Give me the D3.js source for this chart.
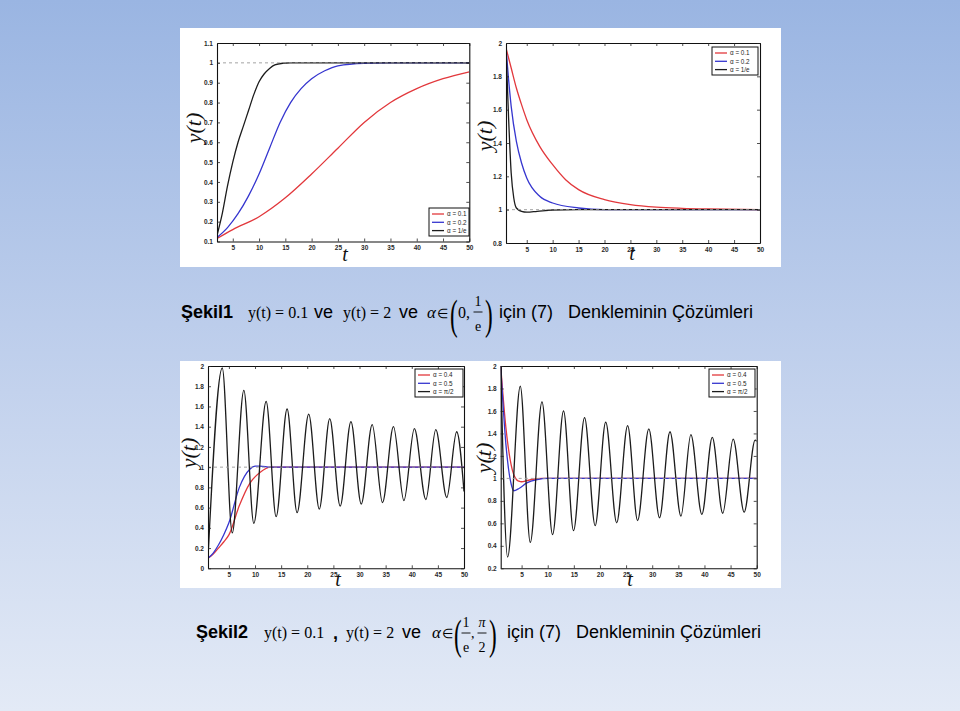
<!DOCTYPE html>
<html>
<head>
<meta charset="utf-8">
<script src="https://cdn.jsdelivr.net/npm/d3@7"></script>
<style>
  body { margin: 0; }
  svg { display: block; }
</style>
</head>
<body>
<svg id="slide" width="960" height="711"></svg>
<script>
// ---- data ----
var tTicks = [5, 10, 15, 20, 25, 30, 35, 40, 45, 50];

var fig1aYTicks = [0.1, 0.2, 0.3, 0.4, 0.5, 0.6, 0.7, 0.8, 0.9, 1, 1.1];
var fig1bYTicks = [0.8, 1, 1.2, 1.4, 1.6, 1.8, 2];
var fig2aYTicks = [0, 0.2, 0.4, 0.6, 0.8, 1, 1.2, 1.4, 1.6, 1.8, 2];
var fig2bYTicks = [0.2, 0.4, 0.6, 0.8, 1, 1.2, 1.4, 1.6, 1.8, 2];

var fig1Labels = ["\u03b1 = 0.1", "\u03b1 = 0.2", "\u03b1 = 1/e"];
var fig2Labels = ["\u03b1 = 0.4", "\u03b1 = 0.5", "\u03b1 = \u03c0/2"];

// Sekil1, y(0)=0.1
var fig1aRed = [[2, 0.115], [5, 0.16], [10, 0.225], [15, 0.32], [20, 0.44], [25, 0.57], [30, 0.70],
  [35, 0.80], [40, 0.87], [45, 0.92], [50, 0.955]];
var fig1aBlue = [[2, 0.12], [4, 0.17], [6, 0.24], [8, 0.33], [10, 0.44], [12, 0.57], [14, 0.70],
  [16, 0.80], [18, 0.87], [20, 0.92], [22.5, 0.96], [25, 0.985], [30, 0.998], [35, 1], [50, 1]];
var fig1aBlack = [[2, 0.13], [3, 0.24], [4, 0.38], [5, 0.50], [6, 0.60], [7, 0.68], [8, 0.76],
  [9, 0.84], [10, 0.905], [11, 0.945], [12, 0.972], [13, 0.99], [14.5, 0.998], [16, 1], [50, 1]];

// Sekil1, y(0)=2
var fig1bRed = [[1, 1.97], [2, 1.85], [3, 1.73], [4, 1.63], [5, 1.54], [7.5, 1.38], [10, 1.27],
  [12.5, 1.18], [15, 1.12], [20, 1.06], [25, 1.03], [30, 1.015], [35, 1.008], [40, 1.004], [50, 1.0]];
var fig1bBlue = [[1, 1.97], [1.5, 1.78], [2, 1.62], [3, 1.41], [4, 1.28], [5, 1.19], [7.5, 1.08],
  [10, 1.04], [15, 1.01], [20, 1.0], [50, 1.0]];
var fig1bBlack = [[1, 1.97], [1.5, 1.55], [2, 1.22], [2.5, 1.07], [3, 1.01], [4, 0.99], [5, 0.985],
  [7, 0.99], [10, 0.998], [15, 1], [50, 1]];

// Sekil2, y(0)=0.1
var fig2aRed = [[1, 0.1], [2, 0.14], [3, 0.2], [4, 0.26], [5, 0.33], [7, 0.62], [9, 0.84],
  [11, 0.95], [13, 1.0], [50, 1.0]];
var fig2aBlue = [[1, 0.1], [2, 0.15], [3, 0.23], [4, 0.33], [5, 0.45], [7, 0.8], [9, 0.98],
  [10, 1.01], [11, 1.01], [13, 1.0], [50, 1.0]];
var fig2aBlack = [[1, 0.1], [3.73, 1.98], [5.64, 0.35], [7.86, 1.76], [9.77, 0.445], [12.13, 1.65],
  [14.04, 0.51], [16.14, 1.575], [18.05, 0.55], [20.28, 1.525], [22.3, 0.585], [24.3, 1.48],
  [26.3, 0.615], [28.36, 1.45], [30.33, 0.635], [32.43, 1.42], [34.4, 0.65], [36.5, 1.40],
  [38.5, 0.67], [40.5, 1.38], [42.7, 0.68], [44.6, 1.37], [46.7, 0.70], [48.6, 1.35], [50, 0.76]];

// Sekil2, y(0)=2
var fig2bRed = [[1, 2], [2, 1.45], [3, 1.12], [4, 0.99], [4.5, 0.975], [5, 0.97], [6, 0.98],
  [7, 0.99], [9, 1.0], [50, 1.0]];
var fig2bBlue = [[1, 2], [2, 1.3], [3, 0.95], [3.5, 0.89], [4.5, 0.91], [6, 0.96], [8, 0.99],
  [10, 1.0], [50, 1.0]];
var fig2bBlack = [[1, 2], [2.32, 0.30], [4.75, 1.82], [6.66, 0.43], [8.9, 1.68], [10.93, 0.50],
  [13.03, 1.60], [14.94, 0.535], [17.05, 1.54], [19.08, 0.58], [21.1, 1.50], [23.2, 0.605],
  [25.3, 1.47], [27.2, 0.625], [29.35, 1.44], [31.4, 0.65], [33.4, 1.415], [35.5, 0.665],
  [37.4, 1.39], [39.5, 0.68], [41.5, 1.365], [43.5, 0.69], [45.5, 1.35], [47.6, 0.70],
  [49.7, 1.34], [50, 1.33]];

var lineColors = ["#e2383c", "#3636cf", "#1c1c1c"];

// ---- page ----
var svg = d3.select("#slide");
var defs = svg.append("defs");
var grad = defs.append("linearGradient").attr("id", "bg")
  .attr("x1", 0).attr("y1", 0).attr("x2", 0).attr("y2", 1);
grad.append("stop").attr("offset", "0%").attr("stop-color", "#9ab5e2");
grad.append("stop").attr("offset", "55%").attr("stop-color", "#c3d2ed");
grad.append("stop").attr("offset", "100%").attr("stop-color", "#e3eaf6");
svg.append("rect").attr("width", 960).attr("height", 711).attr("fill", "url(#bg)");

// white picture boxes
svg.append("rect").attr("x", 180).attr("y", 28).attr("width", 601).attr("height", 239).attr("fill", "#fff");
svg.append("rect").attr("x", 180).attr("y", 361).attr("width", 601).attr("height", 227).attr("fill", "#fff");

var panels = [
  { L: 217, R: 469.3, T: 43, B: 241.5, xDom: [2, 50], yDom: [0.1, 1.1], yTicks: fig1aYTicks,
    series: [fig1aRed, fig1aBlue, fig1aBlack], labels: fig1Labels,
    leg: [429, 208, 40, 28], ylab: [195, 128], tlab: [345, 261] },
  { L: 506, R: 760, T: 43, B: 243, xDom: [1, 50], yDom: [0.8, 2], yTicks: fig1bYTicks,
    series: [fig1bRed, fig1bBlue, fig1bBlack], labels: fig1Labels,
    leg: [712, 47, 46, 28], ylab: [486, 136], tlab: [632, 260] },
  { L: 208, R: 464, T: 366, B: 568.3, xDom: [1, 50], yDom: [0, 2], yTicks: fig2aYTicks,
    series: [fig2aRed, fig2aBlue, fig2aBlack], labels: fig2Labels,
    leg: [415, 369, 48, 28], ylab: [190, 453], tlab: [338, 586] },
  { L: 500.7, R: 756.7, T: 366, B: 568.3, xDom: [1, 50], yDom: [0.2, 2], yTicks: fig2bYTicks,
    series: [fig2bRed, fig2bBlue, fig2bBlack], labels: fig2Labels,
    leg: [709, 369, 46, 28], ylab: [485, 458], tlab: [630, 586] }
];

panels.forEach(function(p, i) {
  var x = d3.scaleLinear().domain(p.xDom).range([p.L, p.R]);
  var y = d3.scaleLinear().domain(p.yDom).range([p.B, p.T]);
  var g = svg.append("g");

  defs.append("clipPath").attr("id", "clip" + i)
    .append("rect").attr("x", p.L).attr("y", p.T).attr("width", p.R - p.L).attr("height", p.B - p.T);

  var line = d3.line()
    .x(function(d) { return x(d[0]); })
    .y(function(d) { return y(d[1]); })
    .curve(d3.curveMonotoneX);

  var plot = g.append("g").attr("clip-path", "url(#clip" + i + ")");

  // curves
  p.series.forEach(function(s, k) {
    plot.append("path")
      .attr("d", line(s))
      .attr("fill", "none")
      .attr("stroke", lineColors[k])
      .attr("stroke-width", 1.3);
  });

  // steady state reference y = 1
  plot.append("path")
    .attr("d", line([[p.xDom[0], 1], [p.xDom[1], 1]]))
    .attr("stroke", "#9a9a9a")
    .attr("stroke-width", 0.9)
    .attr("stroke-dasharray", "3,3");

  // axes, MATLAB style inward ticks on all sides
  var fmt = d3.format("~g");
  var bottom = g.append("g").attr("transform", "translate(0," + p.B + ")")
    .call(d3.axisBottom(x).tickValues(tTicks).tickSize(-3).tickSizeOuter(0).tickPadding(4).tickFormat(fmt));
  var top = g.append("g").attr("transform", "translate(0," + p.T + ")")
    .call(d3.axisTop(x).tickValues(tTicks).tickSize(-3).tickSizeOuter(0).tickFormat(""));
  var left = g.append("g").attr("transform", "translate(" + p.L + ",0)")
    .call(d3.axisLeft(y).tickValues(p.yTicks).tickSize(-3).tickSizeOuter(0).tickPadding(4).tickFormat(fmt));
  var right = g.append("g").attr("transform", "translate(" + p.R + ",0)")
    .call(d3.axisRight(y).tickValues(p.yTicks).tickSize(-3).tickSizeOuter(0).tickFormat(""));

  [bottom, top, left, right].forEach(function(a) {
    a.select(".domain").attr("stroke", "#111").attr("stroke-width", 1.1);
    a.selectAll(".tick line").attr("stroke", "#222").attr("stroke-width", 0.8);
    a.selectAll(".tick text")
      .attr("fill", "#2a2a2a")
      .style("font-family", "'Liberation Sans', Arial, sans-serif")
      .style("font-size", "6.5px")
      .style("font-weight", "bold");
  });

  // axis labels
  g.append("text")
    .attr("transform", "translate(" + (p.ylab[0] + 6) + "," + p.ylab[1] + ") rotate(-90)")
    .attr("text-anchor", "middle")
    .style("font-family", "'Liberation Serif', 'Times New Roman', serif")
    .style("font-style", "italic")
    .style("font-size", "22px")
    .attr("fill", "#111")
    .text("y(t)");
  g.append("text")
    .attr("x", p.tlab[0]).attr("y", p.tlab[1])
    .attr("text-anchor", "middle")
    .style("font-family", "'Liberation Serif', 'Times New Roman', serif")
    .style("font-style", "italic")
    .style("font-size", "20px")
    .attr("fill", "#111")
    .text("t");

  // legend
  var lg = g.append("g").attr("transform", "translate(" + p.leg[0] + "," + p.leg[1] + ")");
  lg.append("rect").attr("width", p.leg[2]).attr("height", p.leg[3])
    .attr("fill", "#fff").attr("stroke", "#111").attr("stroke-width", 1);
  p.labels.forEach(function(lab, k) {
    var yy = 6 + k * 8.3;
    lg.append("line").attr("x1", 3).attr("x2", 15).attr("y1", yy).attr("y2", yy)
      .attr("stroke", lineColors[k]).attr("stroke-width", 1.3);
    lg.append("text").attr("x", 18).attr("y", yy + 2.2)
      .style("font-family", "'Liberation Sans', Arial, sans-serif")
      .style("font-size", "6.3px")
      .attr("fill", "#222")
      .text(lab);
  });
});

// ---- captions ----
var sans = "'Liberation Sans', Arial, sans-serif";
var serif = "'Liberation Serif', 'Times New Roman', serif";

function put(x, y, str, o) {
  var t = svg.append("text").attr("x", x).attr("y", y)
    .style("font-family", o.family || sans)
    .style("font-size", (o.size || 18) + "px")
    .attr("fill", "#000")
    .text(str);
  if (o.bold) t.style("font-weight", "bold");
  if (o.italic) t.style("font-style", "italic");
  if (o.anchor) t.attr("text-anchor", o.anchor);
  return t;
}
function paren(x, y, str, size) {
  svg.append("text")
    .attr("transform", "translate(" + x + "," + y + ") scale(0.55,1)")
    .style("font-family", serif)
    .style("font-size", size + "px")
    .attr("fill", "#000")
    .text(str);
}
function frac(cx, yTop, yBar, yBot, num, den) {
  put(cx, yTop, num, { family: serif, size: 14, anchor: "middle", italic: num === "\u03c0" });
  svg.append("line").attr("x1", cx - 4.5).attr("x2", cx + 4.5).attr("y1", yBar).attr("y2", yBar)
    .attr("stroke", "#000").attr("stroke-width", 0.9);
  put(cx, yBot, den, { family: serif, size: 14, anchor: "middle" });
}

// Sekil1 line
put(181, 318, "\u015eekil1", { bold: true });
put(248, 318, "y(t) = 0.1", { family: serif, size: 16 });
put(314, 318, "ve", {});
put(343, 318, "y(t) = 2", { family: serif, size: 16 });
put(399, 318, "ve", {});
put(427, 318, "\u03b1", { family: serif, size: 17, italic: true });
put(437, 318, "\u2208", { family: serif, size: 13 });
paren(450, 329, "(", 42);
put(458, 318, "0,", { family: serif, size: 16 });
frac(478, 306, 312, 331, "1", "e");
paren(485, 329, ")", 42);
put(499, 318, "i\u00e7in (7)", {});
put(568, 318, "Denkleminin \u00c7\u00f6z\u00fcmleri", {});

// Sekil2 line
put(196, 638, "\u015eekil2", { bold: true });
put(264, 638, "y(t) = 0.1", { family: serif, size: 16 });
put(333, 639, ",", { bold: true });
put(346, 638, "y(t) = 2", { family: serif, size: 16 });
put(402, 638, "ve", {});
put(432, 638, "\u03b1", { family: serif, size: 17, italic: true });
put(442, 638, "\u2208", { family: serif, size: 13 });
paren(454, 649, "(", 42);
frac(466, 627, 633, 652, "1", "e");
put(471, 638, ",", { family: serif, size: 14 });
frac(482, 627, 633, 652, "\u03c0", "2");
paren(489, 649, ")", 42);
put(507, 638, "i\u00e7in (7)", {});
put(576, 638, "Denkleminin \u00c7\u00f6z\u00fcmleri", {});
</script>
</body>
</html>
